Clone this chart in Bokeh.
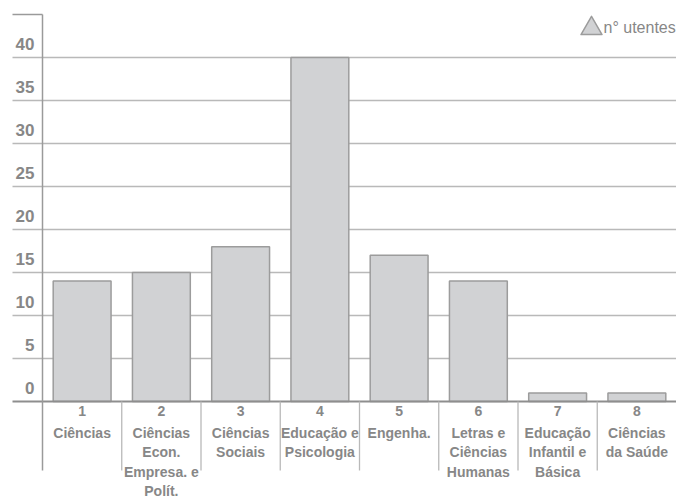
from bokeh.plotting import figure
from bokeh.models import Range1d
from bokeh.core.properties import value
from bokeh.embed import file_html
from bokeh.resources import INLINE

# ---- data ----
numbers = ["1", "2", "3", "4", "5", "6", "7", "8"]
names = [
    "Ciências",
    "Ciências\nEcon.\nEmpresa. e\nPolít.",
    "Ciências\nSociais",
    "Educação e\nPsicologia",
    "Engenha.",
    "Letras e\nCiências\nHumanas",
    "Educação\nInfantil e\nBásica",
    "Ciências\nda Saúde",
]
utentes = [14, 15, 18, 40, 17, 14, 1, 1]
y_ticks = [0, 5, 10, 15, 20, 25, 30, 35, 40]
y_tick_labels = ["0", "5", "10", "15", "20", "25", "30", "35", "40"]
legend_label = "n° utentes"

# ---- layout (picture pixels -> data) ----
W, H = 676, 499
AXIS_PX = 42      # x of the y axis
ZERO_PX = 401     # y of value 0
CAT_PX = (676 - AXIS_PX) / 8
UNIT_PX = (ZERO_PX - 57) / 40

def dx(px):
    return (px - AXIS_PX) / CAT_PX

def dy(py):
    return (ZERO_PX - py) / UNIT_PX

p = figure(width=W, height=H, output_backend="svg", toolbar_location=None,
           x_range=Range1d(dx(0), dx(W)),
           y_range=Range1d(dy(H), dy(0)),
           x_axis_type=None, y_axis_type=None, min_border=0)
p.grid.visible = False
p.outline_line_color = None
p.background_fill_color = "white"
p.border_fill_color = "white"

TXT = "#878787"
GRID = "#b9b9b9"
FONT = value("Liberation Sans")

# gridlines (extend left of axis)
grid_vals = [v for v in y_ticks if v > 0]
p.segment(x0=[dx(12)] * len(grid_vals), x1=[8] * len(grid_vals),
          y0=grid_vals, y1=grid_vals, line_color=GRID, line_width=1.3)

# bars
centers = [i + 0.5 for i in range(len(utentes))]
p.vbar(x=centers, top=utentes, bottom=0, width=0.73,
       fill_color="#d1d2d4", line_color="#9c9c9c", line_width=1.5)

# baseline
p.segment(x0=[dx(12)], x1=[8], y0=[0], y1=[0], line_color="#8e8e8e", line_width=2)

# y axis line + top cap
p.segment(x0=[0], x1=[0], y0=[dy(14)], y1=[dy(470)], line_color="#9a9a9a", line_width=1.5)
p.segment(x0=[dx(12)], x1=[0], y0=[dy(14)], y1=[dy(14)], line_color="#9a9a9a", line_width=1.3)

# category separators below axis
seps = list(range(1, len(utentes)))
p.segment(x0=seps, x1=seps, y0=[0] * len(seps), y1=[dy(470)] * len(seps),
          line_color=GRID, line_width=1.3)

# y tick labels (sit above their gridline)
p.text(x=[0] * len(y_ticks), y=y_ticks, text=y_tick_labels,
       x_offset=-8, y_offset=-13.5, text_align="right", text_baseline="middle",
       text_font=FONT, text_font_style="bold", text_font_size="17px", text_color=TXT)

# category numbers and names
p.text(x=centers, y=[0] * len(centers), text=numbers, y_offset=9,
       text_align="center", text_baseline="middle",
       text_font=FONT, text_font_style="bold", text_font_size="14px", text_color=TXT)
p.text(x=centers, y=[0] * len(centers), text=names, y_offset=23,
       text_align="center", text_baseline="top", text_line_height=1.22,
       text_font=FONT, text_font_style="bold", text_font_size="14px", text_color=TXT)

# legend (triangle + label)
p.scatter(x=[dx(591)], y=[dy(28)], marker="triangle", size=21,
          fill_color="#d1d2d4", line_color="#9c9c9c", line_width=1.5, line_join="round")
p.text(x=[dx(603)], y=[dy(27)], text=[legend_label], text_align="left", text_baseline="middle",
       text_font=FONT, text_font_size="16px", text_color=TXT)

open("out.html", "w").write(file_html(p, INLINE))
